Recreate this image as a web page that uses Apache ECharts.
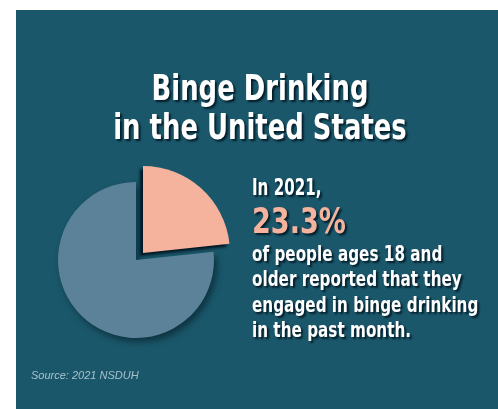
<!DOCTYPE html>
<html><head><meta charset="utf-8">
<script src="https://cdn.jsdelivr.net/npm/echarts@6/dist/echarts.min.js"></script>
<style>html,body{margin:0;padding:0;background:#fff}#c{width:498px;height:409px}</style>
</head><body><div id="c"></div>
<script>
const categories = ["Binge drinking in past month", "Did not binge drink"];
const values = [23.3, 76.7];
const titleLines = ["Binge Drinking", "in the United States"];
const leadText = "In 2021,";
const bigText = "23.3%";
const bodyLines = ["of people ages 18 and", "older reported that they", "engaged in binge drinking", "in the past month."];
const sourceText = "Source: 2021 NSDUH";

const BG = '#1a576a', GRAY = '#5b8298', SALMON = '#f5b29d';
const F = '"DejaVu Sans Condensed","DejaVu Sans",sans-serif';
const chart = echarts.init(document.getElementById('c'), null, {renderer: 'canvas'});
const shadow = {textShadowColor: 'rgba(0,20,30,0.85)', textShadowBlur: 2, textShadowOffsetX: 2, textShadowOffsetY: 2};
const graphics = [
  {type: 'rect', z: -10, shape: {x: 16, y: 10, width: 482, height: 399}, style: {fill: BG}},
  ...titleLines.map((t, i) => ({type: 'text', z: 5, x: 260, y: i === 0 ? 73 : 112, scaleX: 0.8,
    style: Object.assign({text: t, fill: '#ffffff', font: 'bold 36px ' + F, align: 'center', verticalAlign: 'top'}, shadow)})),
  {type: 'text', z: 5, x: 252, y: 178, scaleX: 0.73, style: Object.assign({text: leadText, fill: '#fff', font: 'bold 23px ' + F, verticalAlign: 'top'}, shadow)},
  {type: 'text', z: 5, x: 252, y: 206, scaleX: 0.86, style: Object.assign({text: bigText, fill: SALMON, font: 'bold 35px ' + F, verticalAlign: 'top'}, shadow)},
  ...bodyLines.map((t, i) => ({type: 'text', z: 5, x: 252, y: 244 + i * 25.5, scaleX: 0.77,
    style: Object.assign({text: t, fill: '#fff', font: 'bold 22px ' + F, verticalAlign: 'top'}, shadow)})),
  {type: 'text', z: 5, x: 31, y: 370, style: {text: sourceText, fill: '#a8c3cc', font: 'italic 11px "Liberation Sans",sans-serif', verticalAlign: 'top'}}
];
chart.setOption({
  backgroundColor: '#ffffff',
  animation: false,
  graphic: graphics,
  series: [
    {type: 'pie', center: [136, 260], radius: [0, 78], startAngle: 90, clockwise: true,
     label: {show: false}, labelLine: {show: false}, silent: true,
     data: categories.map((c, i) => ({name: c, value: values[i], itemStyle: i === 0 ? {color: 'rgba(0,0,0,0)'} : {color: GRAY, shadowColor: 'rgba(0,15,25,0.5)', shadowBlur: 6, shadowOffsetX: 3, shadowOffsetY: 4}}))},
    {type: 'pie', center: [143, 253], radius: [0, 87], startAngle: 90, clockwise: true,
     label: {show: false}, labelLine: {show: false}, silent: true,
     data: categories.map((c, i) => ({name: c, value: values[i], itemStyle: i === 0 ? {color: SALMON, shadowColor: 'rgba(0,15,25,0.9)', shadowBlur: 3, shadowOffsetX: -3, shadowOffsetY: 3} : {color: 'rgba(0,0,0,0)'}}))}
  ]
});
</script></body></html>
